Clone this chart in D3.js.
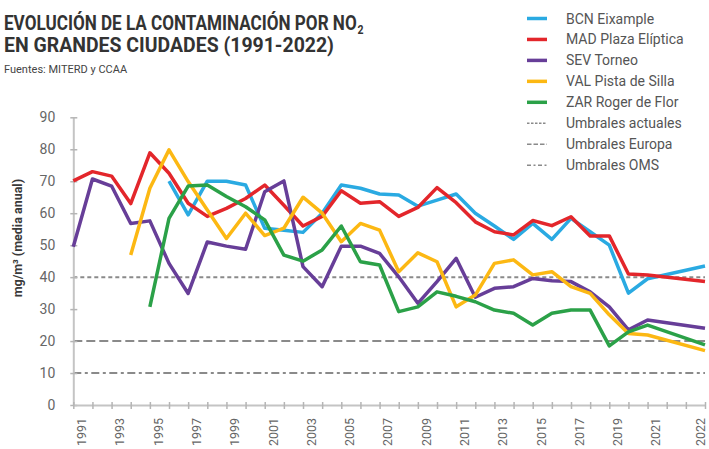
<!DOCTYPE html>
<html>
<head>
<meta charset="utf-8">
<script src="https://cdn.jsdelivr.net/npm/d3@7"></script>
<style>
  html, body { margin: 0; padding: 0; background: #fff; }
  svg { display: block; font-family: Roboto, "Open Sans", sans-serif; }
</style>
</head>
<body>
<script>
// years on the x axis
const years = [1991, 1992, 1993, 1994, 1995, 1996, 1997, 1998, 1999, 2000,
  2001, 2002, 2003, 2004, 2005, 2006, 2007, 2008, 2009, 2010,
  2011, 2012, 2013, 2014, 2015, 2016, 2017, 2018, 2019, 2020,
  2021, 2022];

// NO2 yearly means (ug/m3), null = no data
const bcn = [null, null, null, null, null, 70, 59.5, 70, 70, 68.8,
  55.3, 54.7, 54, 60, 68.8, 67.8, 66, 65.7, 62.2, 64.1,
  66, 60, 56, 51.8, 56.8, 51.8, 58.4, 54.2, 50, 35,
  39.5, 43.5];
const mad = [70.1, 73, 71.6, 63, 78.9, 72.5, 63.1, 59, 61.5, 64.6,
  68.8, 62.5, 56, 59, 67, 63.1, 63.6, 59, 61.8, 68,
  63.3, 57.3, 54.2, 53.2, 57.7, 56.1, 58.9, 52.9, 52.9, 41,
  40.7, 38.6];
const sev = [49.5, 70.7, 68.5, 56.8, 57.6, 44.3, 34.9, 51, 49.7, 48.7,
  66.7, 70.1, 43.3, 37, 49.7, 49.7, 47.4, 40.1, 31.8, 38.6,
  45.9, 33.7, 36.5, 37, 39.6, 38.9, 38.6, 35.4, 30.7, 23.5,
  26.6, 24];
const val = [null, null, null, 46.9, 67.8, 79.8, 69.9, 61, 52.1, 60,
  53, 55.3, 65, 60, 51.1, 56.8, 54.7, 41.7, 47.6, 44.8,
  30.7, 34.4, 44.3, 45.4, 40.7, 41.7, 37, 34.9, 28.2, 22.4,
  21.9, 17];
const zar = [null, null, null, null, 30.7, 58.4, 68.5, 68.8, 65.2, 62,
  57.9, 46.9, 45, 48.5, 56, 44.8, 43.8, 29.2, 30.7, 35.4,
  34, 32.3, 29.7, 28.7, 25, 28.7, 29.7, 29.7, 18.5, 22.9,
  25, 18.8];

const seriesNames = ["BCN Eixample", "MAD Plaza Elíptica", "SEV Torneo", "VAL Pista de Silla", "ZAR Roger de Flor"];
const seriesColors = ["#2aaae2", "#e3262b", "#673e98", "#fcb813", "#2ba148"];
const seriesValues = [bcn, mad, sev, val, zar];

// thresholds
const thresholdNames = ["Umbrales actuales", "Umbrales Europa", "Umbrales OMS"];
const thresholdValues = [40, 20, 10];
const thresholdDash = ["4,3", "9,4", "8,3.5,3,3.5"];

const yTicks = [0, 10, 20, 30, 40, 50, 60, 70, 80, 90];
// the last year gets a wider slot in the original, with two blank ticks before it
const xTickValues = years.slice(0, -1).concat([2021 + 1 / 3, 2021 + 2 / 3, 2022]);

const W = 709, H = 449;
const plotL = 73.3, plotR = 705, plotT = 117.3, plotB = 405;
const step = (plotR - plotL) / 33;

const svg = d3.select("body").append("svg")
  .attr("width", W)
  .attr("height", H);

const x = d3.scaleLinear()
  .domain([1991, 2021, 2022])
  .range([plotL, plotL + 30 * step, plotR]);

const y = d3.scaleLinear()
  .domain([0, 90])
  .range([plotB, plotT]);

// squeeze a text horizontally so it fits a given width (condensed look)
function fitWidth(sel, x0, y0, width) {
  const w = sel.node().getBBox().width;
  sel.attr("transform", `translate(${x0},${y0}) scale(${width / w},1)`);
}

// title
const t1 = svg.append("text")
  .style("font-size", "19.5px")
  .style("font-weight", "bold")
  .style("fill", "#333");
t1.append("tspan").text("EVOLUCIÓN DE LA CONTAMINACIÓN POR NO");
t1.append("tspan").attr("dy", 4).attr("dx", 1).style("font-size", "12px").text("2");
fitWidth(t1, 4, 29.5, 360);

const t2 = svg.append("text")
  .style("font-size", "19.5px")
  .style("font-weight", "bold")
  .style("fill", "#333")
  .text("EN GRANDES CIUDADES (1991-2022)");
fitWidth(t2, 4, 52.4, 330);

const t3 = svg.append("text")
  .style("font-size", "11px")
  .style("fill", "#444")
  .text("Fuentes: MITERD y CCAA");
fitWidth(t3, 4, 72.5, 124);

// threshold lines
svg.append("g")
  .selectAll("line")
  .data(thresholdValues)
  .join("line")
  .attr("x1", plotL)
  .attr("x2", plotR)
  .attr("y1", d => y(d))
  .attr("y2", d => y(d))
  .attr("stroke", "#8a8a8a")
  .attr("stroke-width", 2)
  .attr("stroke-dasharray", (d, i) => thresholdDash[i]);

// y axis
const yAxis = svg.append("g")
  .attr("transform", `translate(${plotL},0)`)
  .call(d3.axisLeft(y).tickValues(yTicks).tickSize(0).tickPadding(18));
yAxis.select(".domain").attr("stroke", "#c4c4c4").attr("stroke-width", 2);
yAxis.selectAll(".tick line").attr("x1", -3).attr("x2", 4).attr("stroke", "#b5b5b5").attr("stroke-width", 1.5);
yAxis.selectAll(".tick text").style("font-size", "14px").style("fill", "#666").style("font-family", "Roboto");

// x axis
const xAxis = svg.append("g")
  .attr("transform", `translate(0,${plotB})`)
  .call(d3.axisBottom(x)
    .tickValues(xTickValues)
    .tickSize(0)
    .tickFormat(d => (d === 2022 || (Number.isInteger(d) && d % 2 === 1)) ? String(d) : ""));
xAxis.select(".domain").attr("stroke", "#c4c4c4").attr("stroke-width", 2);
xAxis.selectAll(".tick line").attr("y1", -3).attr("y2", 4).attr("stroke", "#b5b5b5").attr("stroke-width", 1.5);
xAxis.selectAll(".tick text")
  .attr("transform", d => `translate(${Math.min(8, W - 9 - x(d))},0) rotate(-90)`)
  .attr("x", -13)
  .attr("y", 0)
  .attr("dy", "0.35em")
  .style("text-anchor", "end")
  .style("font-size", "12.5px")
  .style("fill", "#666")
  .style("font-family", "Roboto");

// y label
svg.append("text")
  .attr("transform", `translate(22,${(plotT + plotB) / 2 - 23}) rotate(-90)`)
  .attr("text-anchor", "middle")
  .style("font-size", "12.5px")
  .style("font-weight", "bold")
  .style("fill", "#3a3a3a")
  .text("mg/m³ (media anual)");

// series
const line = d3.line()
  .defined(d => d.v != null)
  .x(d => x(d.year))
  .y(d => y(d.v));

svg.append("g")
  .selectAll("path")
  .data(seriesValues)
  .join("path")
  .attr("d", vals => line(vals.map((v, i) => ({ year: years[i], v: v }))))
  .attr("fill", "none")
  .attr("stroke", (d, i) => seriesColors[i])
  .attr("stroke-width", 3.5)
  .attr("stroke-linejoin", "round");

// legend
const legendItems = seriesNames.map((n, i) => ({ name: n, color: seriesColors[i], width: 3.5, dash: null }))
  .concat(thresholdNames.map((n, i) => ({ name: n, color: "#8a8a8a", width: 1.5, dash: ["2.5,1.5", "4.5,2", "4,2.5,2,2.5"][i] })));

const legend = svg.append("g").attr("transform", "translate(527,18.5)");
const li = legend.selectAll("g")
  .data(legendItems)
  .join("g")
  .attr("transform", (d, i) => `translate(0,${i * 20.95})`);
li.append("line")
  .attr("x1", 0)
  .attr("x2", 20)
  .attr("stroke", d => d.color)
  .attr("stroke-width", d => d.width)
  .attr("stroke-dasharray", d => d.dash);
li.append("text")
  .attr("x", 39)
  .attr("dy", "0.36em")
  .style("font-size", "14px")
  .style("fill", "#555")
  .text(d => d.name);
</script>
</body>
</html>
